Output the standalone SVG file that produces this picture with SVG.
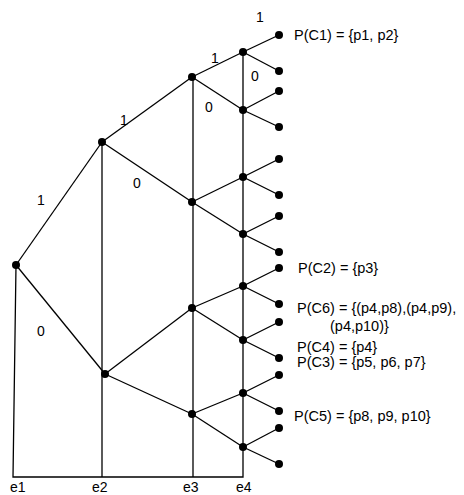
<svg xmlns="http://www.w3.org/2000/svg" width="464" height="495" viewBox="0 0 464 495">
<style>
.e{stroke:#000;stroke-width:1.3;fill:none}
.d{fill:#000}
text{font-family:"Liberation Sans",Arial,sans-serif;font-size:14px;fill:#000}
.p{font-size:14.5px}
</style>
<rect width="464" height="495" fill="#fff"/>
<g id="axes" class="e">
<polyline points="16,265 13,477 243,477 243,52"/>
<line x1="102" y1="142" x2="102" y2="477"/>
<line x1="193" y1="77" x2="193" y2="477"/>
</g>
<g id="connectors" class="e">
<line x1="16" y1="265" x2="102" y2="142"/>
<line x1="16" y1="265" x2="105" y2="374"/>
<line x1="102" y1="142" x2="192" y2="77"/>
<line x1="102" y1="142" x2="192" y2="202"/>
<line x1="105" y1="374" x2="192" y2="308"/>
<line x1="105" y1="374" x2="192" y2="414"/>
<line x1="192" y1="77" x2="243" y2="52"/>
<line x1="192" y1="77" x2="243" y2="110"/>
<line x1="192" y1="202" x2="243" y2="177"/>
<line x1="192" y1="202" x2="243" y2="234"/>
<line x1="192" y1="308" x2="243" y2="286"/>
<line x1="192" y1="308" x2="243" y2="340"/>
<line x1="192" y1="414" x2="243" y2="393"/>
<line x1="192" y1="414" x2="243" y2="447"/>
<line x1="243" y1="52" x2="279" y2="35"/>
<line x1="243" y1="52" x2="279" y2="71"/>
<line x1="243" y1="110" x2="279" y2="91"/>
<line x1="243" y1="110" x2="279" y2="127"/>
<line x1="243" y1="177" x2="279" y2="159"/>
<line x1="243" y1="177" x2="279" y2="195"/>
<line x1="243" y1="234" x2="279" y2="216"/>
<line x1="243" y1="234" x2="279" y2="252"/>
<line x1="243" y1="286" x2="279" y2="268"/>
<line x1="243" y1="286" x2="279" y2="304"/>
<line x1="243" y1="340" x2="279" y2="322"/>
<line x1="243" y1="340" x2="279" y2="358"/>
<line x1="243" y1="393" x2="279" y2="375"/>
<line x1="243" y1="393" x2="279" y2="411"/>
<line x1="243" y1="447" x2="279" y2="428"/>
<line x1="243" y1="447" x2="279" y2="464"/>
</g>
<g id="n0"><circle class="d" cx="16" cy="265" r="4"/></g>
<g id="n1"><circle class="d" cx="102" cy="142" r="4"/></g>
<g id="n2"><circle class="d" cx="105" cy="374" r="4"/></g>
<g id="n3"><circle class="d" cx="192" cy="77" r="4"/></g>
<g id="n4"><circle class="d" cx="192" cy="202" r="4"/></g>
<g id="n5"><circle class="d" cx="192" cy="308" r="4"/></g>
<g id="n6"><circle class="d" cx="192" cy="414" r="4"/></g>
<g id="n7"><circle class="d" cx="243" cy="52" r="4"/></g>
<g id="n8"><circle class="d" cx="243" cy="110" r="4"/></g>
<g id="n9"><circle class="d" cx="243" cy="177" r="4"/></g>
<g id="n10"><circle class="d" cx="243" cy="234" r="4"/></g>
<g id="n11"><circle class="d" cx="243" cy="286" r="4"/></g>
<g id="n12"><circle class="d" cx="243" cy="340" r="4"/></g>
<g id="n13"><circle class="d" cx="243" cy="393" r="4"/></g>
<g id="n14"><circle class="d" cx="243" cy="447" r="4"/></g>
<g id="leaf1"><circle class="d" cx="279" cy="35" r="4"/><text class="p" x="294" y="40">P(C1) = {p1, p2}</text></g>
<g id="leaf2"><circle class="d" cx="279" cy="71" r="4"/></g>
<g id="leaf3"><circle class="d" cx="279" cy="91" r="4"/></g>
<g id="leaf4"><circle class="d" cx="279" cy="127" r="4"/></g>
<g id="leaf5"><circle class="d" cx="279" cy="159" r="4"/></g>
<g id="leaf6"><circle class="d" cx="279" cy="195" r="4"/></g>
<g id="leaf7"><circle class="d" cx="279" cy="216" r="4"/></g>
<g id="leaf8"><circle class="d" cx="279" cy="252" r="4"/></g>
<g id="leaf9"><circle class="d" cx="279" cy="268" r="4"/><text class="p" x="298" y="273">P(C2) = {p3}</text></g>
<g id="leaf10"><circle class="d" cx="279" cy="304" r="4"/></g>
<g id="leaf11"><circle class="d" cx="279" cy="322" r="4"/><text class="p" x="297" y="313">P(C6) = {(p4,p8),(p4,p9),</text><text class="p" x="330" y="331">(p4,p10)}</text></g>
<g id="leaf12"><circle class="d" cx="279" cy="358" r="4"/><text class="p" x="297" y="352">P(C4) = {p4}</text></g>
<g id="leaf13"><circle class="d" cx="279" cy="375" r="4"/><text class="p" x="297" y="367">P(C3) = {p5, p6, p7}</text></g>
<g id="leaf14"><circle class="d" cx="279" cy="411" r="4"/></g>
<g id="leaf15"><circle class="d" cx="279" cy="428" r="4"/><text class="p" x="294" y="421">P(C5) = {p8, p9, p10}</text></g>
<g id="leaf16"><circle class="d" cx="279" cy="464" r="4"/></g>
<g id="labels">
<text x="256" y="22">1</text>
<text x="211" y="63">1</text>
<text x="251" y="81">0</text>
<text x="205" y="112">0</text>
<text x="120" y="125">1</text>
<text x="133" y="188">0</text>
<text x="37" y="205">1</text>
<text x="37" y="336">0</text>
<text x="10" y="492">e1</text>
<text x="92" y="492">e2</text>
<text x="183" y="492">e3</text>
<text x="236" y="492">e4</text>
</g>
</svg>
